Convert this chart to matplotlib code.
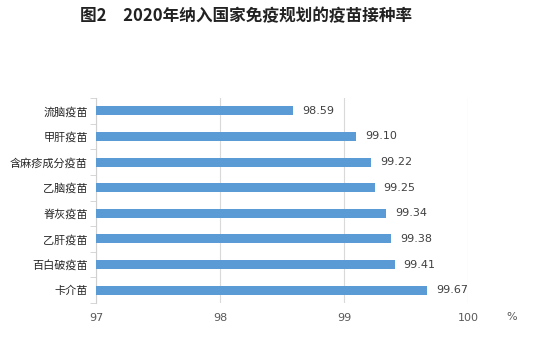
import matplotlib
matplotlib.use('Agg')
import matplotlib.pyplot as plt
import numpy as np

plt.rcParams['font.family'] = ['Noto Sans CJK SC', 'DejaVu Sans']

vaccines = ['流脑疫苗', '甲肝疫苗', '含麻疹成分疫苗', '乙脑疫苗',
            '脊灰疫苗', '乙肝疫苗', '百白破疫苗', '卡介苗']
rates = [98.59, 99.10, 99.22, 99.25, 99.34, 99.38, 99.41, 99.67]
xticks = [97, 98, 99, 100]

fig = plt.figure(figsize=(5.4, 3.48), dpi=100)
ax = fig.add_axes([96 / 540, 45 / 348, 372 / 540, 205 / 348])

y = np.arange(len(vaccines))
ax.barh(y, rates, height=0.35, color='#5b9bd5', zorder=3)
for yi, v in zip(y, rates):
    ax.text(v + 0.07, yi, f'{v:.2f}', va='center', ha='left',
            fontsize=8, color='#404040', family='DejaVu Sans')

ax.set_xlim(97, 100)
ax.set_ylim(len(vaccines) - 0.5, -0.5)
ax.set_xticks(xticks)
ax.set_xticklabels([str(t) for t in xticks], family='DejaVu Sans',
                   fontsize=8, color='#595959')
ax.set_yticks(y)
ax.set_yticklabels(vaccines, fontsize=8, color='#262626')
ax.set_yticks(np.arange(-0.5, len(vaccines)), minor=True)
ax.tick_params(axis='x', length=0, pad=7)
ax.tick_params(axis='y', which='major', length=0, pad=6)
ax.tick_params(axis='y', which='minor', length=4, color='#d0d0d0')
ax.xaxis.grid(True, color='#d9d9d9', linewidth=0.8, zorder=0)

for s in ['top', 'right', 'bottom']:
    ax.spines[s].set_visible(False)
ax.spines['left'].set_color('#d0d0d0')

fig.text(512 / 540, 1 - 317 / 348, '%', ha='center', va='center',
         fontsize=8, color='#595959', family='DejaVu Sans')
fig.text(246 / 540, 1 - 16 / 348, '图2　2020年纳入国家免疫规划的疫苗接种率',
         ha='center', va='center', fontsize=12, fontweight='bold', color='#222222')

fig.savefig('out.png', dpi=100)
